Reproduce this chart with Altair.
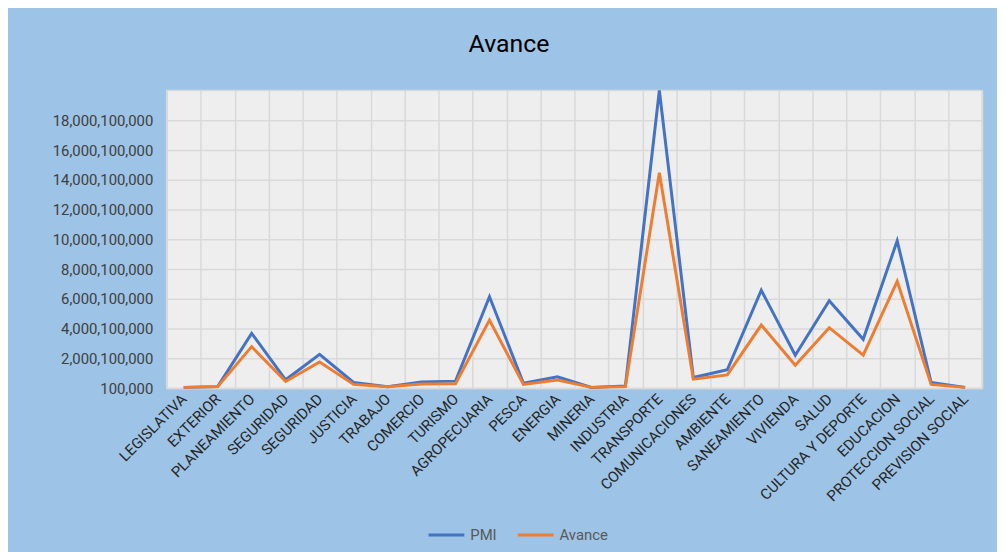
import altair as alt
import pandas as pd

categories = ["LEGISLATIVA", "EXTERIOR", "PLANEAMIENTO", "SEGURIDAD", "SEGURIDAD", "JUSTICIA",
              "TRABAJO", "COMERCIO", "TURISMO", "AGROPECUARIA", "PESCA", "ENERGIA", "MINERIA",
              "INDUSTRIA", "TRANSPORTE", "COMUNICACIONES", "AMBIENTE", "SANEAMIENTO", "VIVIENDA",
              "SALUD", "CULTURA Y DEPORTE", "EDUCACION", "PROTECCION SOCIAL", "PREVISION SOCIAL"]

pmi = [0.05e9, 0.10e9, 3.68e9, 0.56e9, 2.27e9, 0.38e9, 0.10e9, 0.42e9, 0.47e9, 6.14e9, 0.33e9,
       0.76e9, 0.05e9, 0.15e9, 20.0e9, 0.71e9, 1.23e9, 6.58e9, 2.21e9, 5.87e9, 3.28e9, 9.90e9,
       0.38e9, 0.05e9]
avance = [0.05e9, 0.10e9, 2.79e9, 0.45e9, 1.76e9, 0.25e9, 0.10e9, 0.27e9, 0.29e9, 4.57e9, 0.25e9,
          0.54e9, 0.05e9, 0.10e9, 14.48e9, 0.60e9, 0.89e9, 4.24e9, 1.54e9, 4.06e9, 2.21e9, 7.18e9,
          0.25e9, 0.05e9]

series_names = ["PMI", "Avance"]
series_colors = ["#4472C4", "#ED7D31"]
y_ticks = [100000 + k * 2000000000 for k in range(10)]

rows = []
for i, c in enumerate(categories):
    rows.append({"idx": i, "cat": c, "serie": "PMI", "valor": pmi[i]})
    rows.append({"idx": i, "cat": c, "serie": "Avance", "valor": avance[i]})
df = pd.DataFrame(rows)

label_expr = "[" + ",".join("'" + c + "'" for c in categories) + "][datum.value]"

FONT = "Roboto"

chart = alt.Chart(df).mark_line(strokeWidth=3).encode(
    x=alt.X("idx:O",
            scale=alt.Scale(type="band", paddingInner=0, paddingOuter=0),
            bandPosition=0.5,
            axis=alt.Axis(title=None, labelExpr=label_expr, labelAngle=-45,
                          labelAlign="right", labelBaseline="middle", labelPadding=8,
                          labelFontSize=15, labelColor="#262626", labelFont=FONT,
                          ticks=False, grid=True, tickBand="extent",
                          gridColor="#D9D9D9", gridWidth=1.5,
                          domainColor="#D9D9D9", domainWidth=1.5)),
    y=alt.Y("valor:Q",
            scale=alt.Scale(domain=[100000, 20000100000], nice=False, zero=False),
            axis=alt.Axis(title=None, values=y_ticks, format=",d", labelFontSize=15,
                          labelColor="#404040", labelFont=FONT, labelPadding=14,
                          ticks=False, domain=False, gridColor="#D9D9D9", gridWidth=1.5)),
    color=alt.Color("serie:N",
                    scale=alt.Scale(domain=series_names, range=series_colors),
                    legend=alt.Legend(title=None, orient="none", legendX=262, legendY=428,
                                      direction="horizontal", symbolType="stroke",
                                      symbolSize=1300, symbolStrokeWidth=3,
                                      labelFontSize=15, labelColor="#595959", labelFont=FONT,
                                      columnPadding=14, labelOffset=4)),
    order=alt.Order("idx:Q"),
).properties(
    width=822,
    height=300,
    title=alt.TitleParams("Avance", fontSize=25, font=FONT, fontWeight="normal",
                          color="#000000", anchor="middle", dx=-66, offset=28),
    autosize=alt.AutoSizeParams(type="none"),
    padding={"left": 160, "top": 81, "right": 15, "bottom": 163},
    background="#9DC3E6",
).configure_view(
    fill="#EEEEEE", stroke="#D9D9D9", strokeWidth=1.5
)

chart.save("out.html", embed_options={"renderer": "svg", "actions": False})
